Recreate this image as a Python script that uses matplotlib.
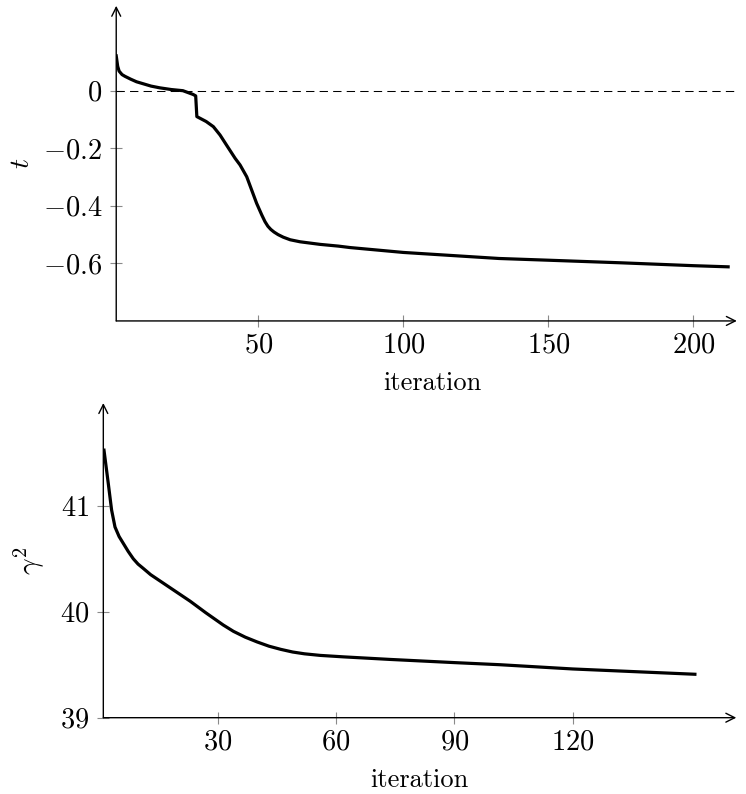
import matplotlib
matplotlib.use('Agg')
import matplotlib.pyplot as plt

# top panel: t per iteration
iter_t = [1, 1.5, 2, 3, 4, 6, 8, 10, 13, 16, 20, 24, 27.5, 28.4, 28.8, 32, 34.5, 36.8,
          39.1, 42.0, 43.7, 46.0, 47.7, 49.4, 51.2, 52.3, 53.3, 54.3, 55.4, 56.8, 58.6, 61,
          64.4, 71.3, 77.6, 81.6, 100, 133, 150, 175, 200, 212]
t_vals = [0.121, 0.085, 0.068, 0.056, 0.050, 0.040, 0.031, 0.025, 0.016, 0.010, 0.004,
          0.0, -0.013, -0.018, -0.09, -0.107, -0.125, -0.154, -0.19, -0.235, -0.258,
          -0.299, -0.345, -0.391, -0.432, -0.455, -0.471, -0.482, -0.491, -0.500, -0.509,
          -0.518, -0.525, -0.534, -0.540, -0.545, -0.562, -0.583, -0.589, -0.598,
          -0.608, -0.612]

# bottom panel: gamma^2 per iteration
iter_g = [1.17, 2.26, 3.1, 3.96, 5, 6.07, 7.3, 8.6, 9.8, 11.1, 13, 15.4, 19, 23, 27,
          31.4, 34, 37, 40, 43, 46, 49, 52, 56, 62, 73.7, 90, 101.6, 120, 151]
g_vals = [41.525, 41.21, 40.96, 40.80, 40.71, 40.645, 40.57, 40.50, 40.45, 40.41,
          40.35, 40.29, 40.20, 40.10, 39.99, 39.875, 39.815, 39.76, 39.715, 39.675,
          39.645, 39.62, 39.603, 39.588, 39.574, 39.55, 39.52, 39.50, 39.46, 39.41]

xticks_t = [50, 100, 150, 200]
yticks_t = [0, -0.2, -0.4, -0.6]
ylabels_t = [r'$0$', r'$-0.2$', r'$-0.4$', r'$-0.6$']
xticks_g = [30, 60, 90, 120]
yticks_g = [39, 40, 41]

plt.rcParams.update({
    'font.family': 'serif',
    'font.serif': ['cmr10'],
    'mathtext.fontset': 'cm',
    'axes.formatter.use_mathtext': True,
    'font.size': 19,
})

fig = plt.figure(figsize=(7.46, 7.94), dpi=100)
ax1 = fig.add_axes([0.1558, 0.5958, 0.8319, 0.3969])
ax2 = fig.add_axes([0.1385, 0.0961, 0.8485, 0.3963])


def style_axis(ax):
    for s in ['top', 'right', 'left', 'bottom']:
        ax.spines[s].set_visible(False)
    arrow = dict(arrowstyle='->', lw=1.0, color='black', mutation_scale=16,
                 shrinkA=0, shrinkB=0)
    ax.annotate('', xy=(1.0, 0), xytext=(0, 0), xycoords='axes fraction', arrowprops=arrow)
    ax.annotate('', xy=(0, 1.0), xytext=(0, 0), xycoords='axes fraction', arrowprops=arrow)
    ax.tick_params(direction='inout', length=8, width=0.8, color='#8a8a8a',
                   labelsize=20.5, labelcolor='black')
    ax.tick_params(axis='y', pad=6)
    ax.tick_params(axis='x', pad=4)


# --- top ---
ax1.plot(iter_t, t_vals, color='black', lw=2.3, solid_joinstyle='round', zorder=3)
ax1.axhline(0, color='black', lw=0.75, ls=(0, (8, 5)))
ax1.set_xlim(1, 215)
ax1.set_ylim(-0.8, 0.295)
ax1.set_xticks(xticks_t)
ax1.set_yticks(yticks_t, labels=ylabels_t)
style_axis(ax1)
ax1.set_xlabel('iteration', va='center')
ax1.xaxis.set_label_coords(0.51, -0.196)
ax1.set_ylabel(r'$t$', va='center', fontsize=20)
ax1.yaxis.set_label_coords(-0.152, 0.5)

# --- bottom ---
ax2.plot(iter_g, g_vals, color='black', lw=2.3, solid_joinstyle='round', zorder=3)
ax2.set_xlim(1, 161.5)
ax2.set_ylim(39, 41.97)
ax2.set_xticks(xticks_g)
ax2.set_yticks(yticks_g)
style_axis(ax2)
ax2.set_xlabel('iteration', va='center')
ax2.xaxis.set_label_coords(0.50, -0.2)
ax2.set_ylabel(r'$\gamma^2$', va='center', fontsize=21)
ax2.yaxis.set_label_coords(-0.116, 0.5)

plt.savefig('out.png', dpi=100)
